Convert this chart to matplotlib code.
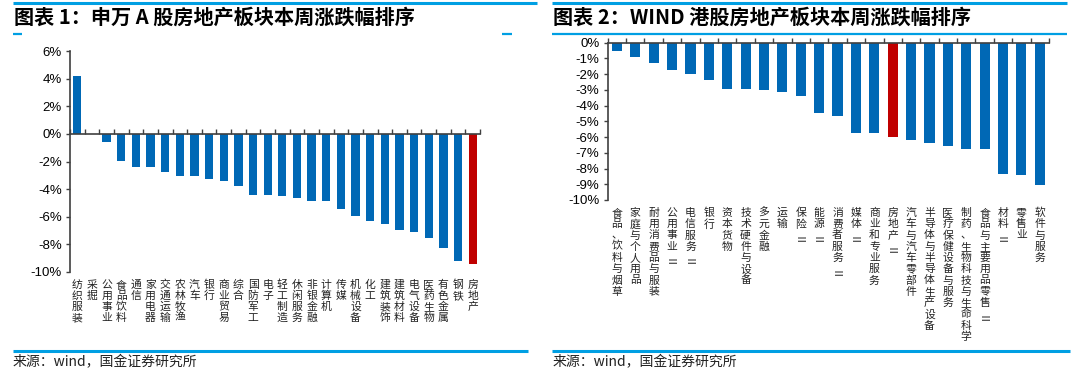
import matplotlib
matplotlib.use("Agg")
import matplotlib.pyplot as plt
from matplotlib.transforms import blended_transform_factory

plt.rcParams['font.family'] = ['Liberation Sans', 'Noto Sans CJK SC', 'DejaVu Sans']

# ---------------- data ----------------
title1 = "图表 1：申万 A 股房地产板块本周涨跌幅排序"
cats1 = ["纺织服装", "采掘", "公用事业", "食品饮料", "通信", "家用电器", "交通运输",
         "农林牧渔", "汽车", "银行", "商业贸易", "综合", "国防军工", "电子",
         "轻工制造", "休闲服务", "非银金融", "计算机", "传媒", "机械设备", "化工",
         "建筑装饰", "建筑材料", "电气设备", "医药生物", "有色金属", "钢铁", "房地产"]
vals1 = [4.19, 0.0, -0.56, -1.96, -2.37, -2.37, -2.78, -3.03, -3.03, -3.24, -3.44,
         -3.75, -4.41, -4.41, -4.53, -4.65, -4.84, -4.84, -5.47, -5.91, -6.32,
         -6.54, -6.97, -7.07, -7.51, -8.23, -9.20, -9.42]
yticks1 = [6, 4, 2, 0, -2, -4, -6, -8, -10]

title2 = "图表 2：WIND 港股房地产板块本周涨跌幅排序"
cats2 = ["食品、饮料与烟草", "家庭与个人用品", "耐用消费品与服装", "公用事业Ⅱ",
         "电信服务Ⅱ", "银行", "资本货物", "技术硬件与设备", "多元金融", "运输",
         "保险Ⅱ", "能源Ⅱ", "消费者服务Ⅱ", "媒体Ⅱ", "商业和专业服务", "房地产Ⅱ",
         "汽车与汽车零部件", "半导体与半导体生产设备", "医疗保健设备与服务",
         "制药、生物科技与生命科学", "食品与主要用品零售Ⅱ", "材料Ⅱ", "零售业",
         "软件与服务"]
vals2 = [-0.53, -0.89, -1.27, -1.73, -2.01, -2.39, -2.94, -2.94, -3.02, -3.13,
         -3.40, -4.50, -4.69, -5.71, -5.71, -6.00, -6.19, -6.36, -6.55, -6.74,
         -6.74, -8.33, -8.41, -9.05]
yticks2 = [0, -1, -2, -3, -4, -5, -6, -7, -8, -9, -10]

source = "来源：wind，国金证券研究所"
highlight = "房地产"

# ---------------- style ----------------
W, H = 1082, 390
BLUE = "#0068B5"
RED = "#C00000"
LINE = "#009FE3"
AXC = "#404040"
TXT = "#222222"
CJK = ['Noto Sans CJK SC', 'DejaVu Sans']

fig = plt.figure(figsize=(W / 100, H / 100), dpi=100)
fig.patch.set_facecolor("white")


def px_axes(x0, y0, x1, y1):
    return fig.add_axes([x0 / W, 1 - y1 / H, (x1 - x0) / W, (y1 - y0) / H])


# overlay for decoration lines (pixel coords)
ov = fig.add_axes([0, 0, 1, 1], zorder=-1)
ov.set_xlim(0, W)
ov.set_ylim(H, 0)
ov.axis("off")

# panel 1 decorations
ov.plot([13, 537], [2.5, 2.5], color=LINE, lw=2.2, solid_capstyle="butt")
ov.plot([13, 22], [33.5, 33.5], color=LINE, lw=1.6, solid_capstyle="butt")
ov.plot([502, 512], [33.5, 33.5], color=LINE, lw=1.6, solid_capstyle="butt")
ov.plot([13, 528], [350.5, 350.5], color=LINE, lw=2.2, solid_capstyle="butt")
# panel 2 decorations
ov.plot([552, 1067], [2.5, 2.5], color=LINE, lw=2.2, solid_capstyle="butt")
ov.plot([552, 1067], [33.5, 33.5], color=LINE, lw=1.6, solid_capstyle="butt")
ov.plot([552, 1070], [351, 351], color=LINE, lw=2.2, solid_capstyle="butt")

fig.text(14 / W, 1 - 17 / H, title1, family=CJK, fontsize=14.5, fontweight="bold",
         style="italic", color="black", va="center", ha="left")
fig.text(553 / W, 1 - 17 / H, title2, family=CJK, fontsize=14.5, fontweight="bold",
         style="italic", color="black", va="center", ha="left")
fig.text(13 / W, 1 - 362 / H, source, family=CJK, fontsize=10, color=TXT,
         va="center", ha="left")
fig.text(553 / W, 1 - 362 / H, source, family=CJK, fontsize=10, color=TXT,
         va="center", ha="left")


def stacked_labels(ax, cats, first_off, step, fs):
    tr = blended_transform_factory(ax.transData, ax.transAxes)
    for i, lab in enumerate(cats):
        for j, ch in enumerate(lab):
            ax.annotate(ch, xy=(i, 0), xycoords=tr,
                        xytext=(0, -(first_off + j * step)), textcoords="offset pixels",
                        ha="center", va="center", fontsize=fs, color=TXT,
                        family=CJK, rotation=90 if ch == "Ⅱ" else 0,
                        annotation_clip=False)


# ---------------- chart 1 ----------------
ax1 = px_axes(70, 51, 480, 272)
n1 = len(cats1)
colors1 = [RED if c == highlight else BLUE for c in cats1]
ax1.bar(range(n1), vals1, width=0.57, color=colors1, zorder=2)
ax1.set_xlim(-0.5, n1 - 0.5)
ax1.set_ylim(min(yticks1), max(yticks1))
ax1.set_yticks(yticks1)
ax1.set_yticklabels([f"{t}%" for t in yticks1], fontsize=9.5, color="black")
ax1.set_xticks([i - 0.5 for i in range(n1 + 1)])
ax1.set_xticklabels([])
for s in ["top", "right"]:
    ax1.spines[s].set_visible(False)
ax1.spines["bottom"].set_position(("data", 0))
ax1.spines["bottom"].set_zorder(3)
for s in ["left", "bottom"]:
    ax1.spines[s].set_color(AXC)
    ax1.spines[s].set_linewidth(1.2)
ax1.tick_params(axis="x", direction="in", length=3.5, color=AXC, width=1)
ax1.tick_params(axis="y", direction="out", length=3, color=AXC, width=1, pad=3)
ax1.set_facecolor("none")
stacked_labels(ax1, cats1, 13, 11, 7.8)

# ---------------- chart 2 ----------------
ax2 = px_axes(607.7, 42.7, 1049, 200)
n2 = len(cats2)
colors2 = [RED if c.startswith(highlight) else BLUE for c in cats2]
ax2.bar(range(n2), vals2, width=0.55, color=colors2, zorder=2)
ax2.set_xlim(-0.5, n2 - 0.5)
ax2.set_ylim(min(yticks2), max(yticks2))
ax2.set_yticks(yticks2)
ax2.set_yticklabels([f"{t}%" for t in yticks2], fontsize=9.5, color="black")
ax2.xaxis.set_ticks_position("top")
ax2.set_xticks([i - 0.5 for i in range(n2 + 1)])
ax2.set_xticklabels([])
for s in ["bottom", "right"]:
    ax2.spines[s].set_visible(False)
for s in ["left", "top"]:
    ax2.spines[s].set_color(AXC)
    ax2.spines[s].set_linewidth(1.2)
ax2.spines["top"].set_zorder(3)
ax2.tick_params(axis="x", direction="out", length=3.5, color=AXC, width=1)
ax2.tick_params(axis="y", direction="out", length=3, color=AXC, width=1, pad=3)
ax2.set_facecolor("none")
stacked_labels(ax2, cats2, 13, 11.25, 7.8)

fig.savefig("out.png", dpi=100, facecolor="white")
